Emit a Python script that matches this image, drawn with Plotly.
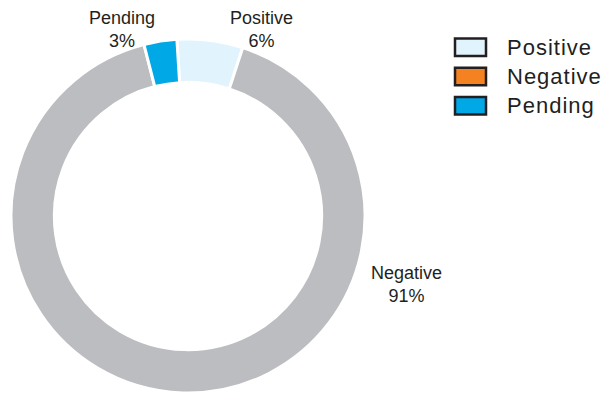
import plotly.graph_objects as go

# Data
categories = ["Positive", "Negative", "Pending"]
values = [6, 91, 3]
slice_colors = ["#e1f3fc", "#bcbdc0", "#00a8e6"]
legend_colors = ["#e1f3fc", "#f58220", "#00a8e6"]

W, H = 609, 404
OFF = 8  # page body margin
FONT = "Liberation Sans, Arial, Helvetica, sans-serif"
TXT = "#231f20"


def px_x(x):
    return (x - OFF) / W


def px_y(y):
    return (H - (y - OFF)) / H


fig = go.Figure()
cx, cy, R = 188, 216, 177
fig.add_trace(go.Pie(
    labels=categories,
    values=values,
    sort=False,
    direction="clockwise",
    rotation=-3.6,
    hole=0.755,
    textinfo="none",
    hoverinfo="label+percent",
    showlegend=False,
    marker=dict(colors=slice_colors, line=dict(color="white", width=3)),
    domain=dict(x=[px_x(cx - R), px_x(cx + R)], y=[px_y(cy + R), px_y(cy - R)]),
))

total = sum(values)
label_pos = {"Pending": (122, 29.5), "Positive": (261, 29.5), "Negative": (406, 284.7)}
annotations = []
for cat, v in zip(categories, values):
    lx, ly = label_pos[cat]
    annotations.append(dict(
        x=px_x(lx), y=px_y(ly), xref="paper", yref="paper",
        text=f"{cat}<br>{round(100 * v / total)}%",
        showarrow=False, xanchor="center", yanchor="middle",
        font=dict(family=FONT, size=18, color=TXT),
        align="center",
    ))

# custom legend
shapes = []
top0, step, bh = 38.5, 29.2, 17.5
for i, (cat, col) in enumerate(zip(categories, legend_colors)):
    y0 = top0 + i * step
    shapes.append(dict(
        type="rect", xref="paper", yref="paper",
        x0=px_x(455), x1=px_x(486), y0=px_y(y0), y1=px_y(y0 + bh),
        fillcolor=col, line=dict(color=TXT, width=2.5),
    ))
    annotations.append(dict(
        x=px_x(505), y=px_y(y0 + bh / 2), xref="paper", yref="paper",
        text=f"<span style='letter-spacing:1px'>{cat}</span>",
        showarrow=False, xanchor="left", yanchor="middle",
        font=dict(family=FONT, size=22, color=TXT),
    ))

fig.update_layout(
    width=W, height=H,
    margin=dict(l=0, r=0, t=0, b=0),
    paper_bgcolor="white", plot_bgcolor="white",
    annotations=annotations, shapes=shapes,
    showlegend=False,
)

fig.write_html("out.html")
